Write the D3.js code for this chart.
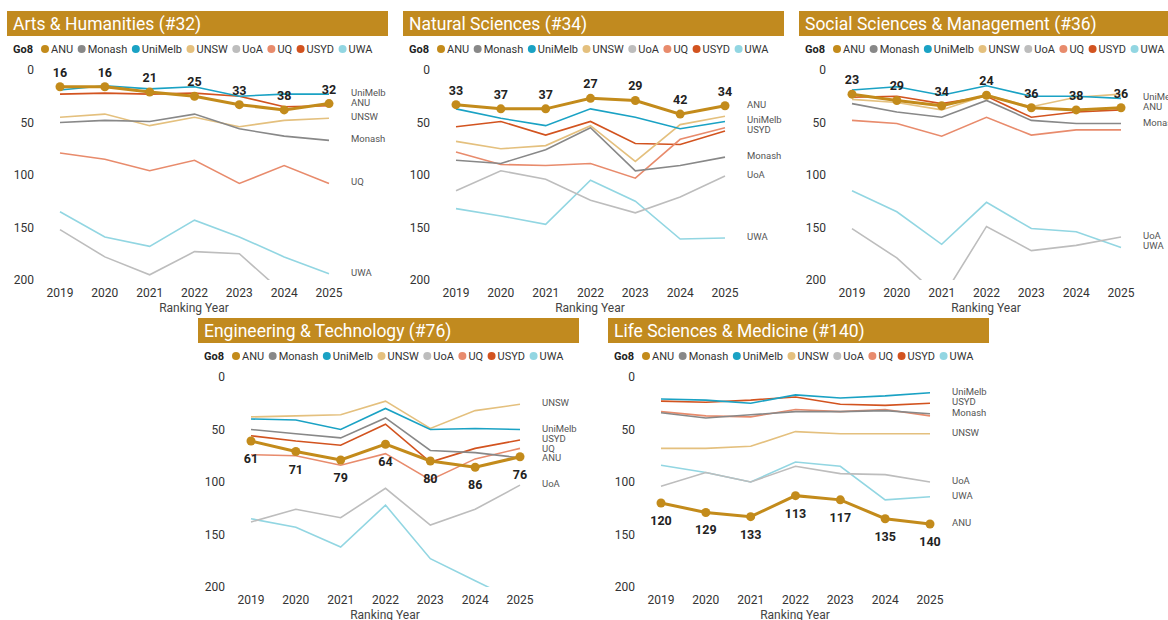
<!DOCTYPE html>
<html>
<head>
<meta charset="utf-8">
<script src="https://d3js.org/d3.v7.min.js"></script>
<style>
body { margin: 0; background: #fff; }
svg { font-family: Roboto, "Open Sans", sans-serif; }
</style>
</head>
<body>
<div id="chart"></div>
<script>
// ranking years and Go8 universities
var years = [2019, 2020, 2021, 2022, 2023, 2024, 2025];
var schools = ["ANU", "Monash", "UniMelb", "UNSW", "UoA", "UQ", "USYD", "UWA"];
var yTicks = [0, 50, 100, 150, 200];

// subject rank per school, one object per panel
var artsHum = {
  ANU:     [16, 16, 21, 25, 33, 38, 32],
  Monash:  [50, 48, 49, 42, 56, 63, 67],
  UniMelb: [19, 15, 18, 16, 25, 23, 23],
  UNSW:    [45, 42, 53, 45, 54, 48, 46],
  UoA:     [152, 178, 195, 173, 175, 213, 230],
  UQ:      [79, 85, 96, 86, 108, 91, 108],
  USYD:    [23, 22, 23, 22, 25, 35, 34],
  UWA:     [135, 159, 168, 143, 159, 178, 194]
};
var natSci = {
  ANU:     [33, 37, 37, 27, 29, 42, 34],
  Monash:  [86, 89, 76, 55, 96, 91, 83],
  UniMelb: [37, 46, 53, 37, 45, 56, 49],
  UNSW:    [68, 75, 72, 53, 87, 52, 44],
  UoA:     [115, 96, 104, 124, 136, 121, 101],
  UQ:      [78, 90, 91, 89, 103, 66, 55],
  USYD:    [54, 49, 62, 49, 70, 71, 58],
  UWA:     [132, 139, 147, 105, 125, 161, 160]
};
var socSci = {
  ANU:     [23, 29, 34, 24, 36, 38, 36],
  Monash:  [32, 40, 45, 29, 48, 51, 51],
  UniMelb: [19, 16, 24, 15, 25, 25, 27],
  UNSW:    [28, 31, 38, 24, 35, 26, 23],
  UoA:     [151, 179, 218, 149, 172, 167, 159],
  UQ:      [48, 51, 63, 45, 62, 57, 57],
  USYD:    [26, 25, 32, 25, 45, 40, 38],
  UWA:     [115, 135, 166, 126, 151, 154, 169]
};
var engTech = {
  ANU:     [61, 71, 79, 64, 80, 86, 76],
  Monash:  [50, 54, 58, 39, 70, 72, 77],
  UniMelb: [40, 41, 50, 30, 50, 49, 50],
  UNSW:    [38, 37, 36, 23, 49, 32, 26],
  UoA:     [138, 126, 134, 106, 141, 126, 103],
  UQ:      [74, 75, 84, 73, 98, 78, 68],
  USYD:    [56, 61, 65, 45, 81, 68, 60],
  UWA:     [135, 143, 162, 122, 173, 194, 215]
};
var lifeSci = {
  ANU:     [120, 129, 133, 113, 117, 135, 140],
  Monash:  [34, 39, 36, 33, 33, 32, 35],
  UniMelb: [21, 22, 25, 17, 20, 18, 15],
  UNSW:    [68, 68, 66, 52, 54, 54, 54],
  UoA:     [104, 91, 100, 85, 92, 93, 100],
  UQ:      [33, 37, 38, 31, 33, 31, 37],
  USYD:    [23, 24, 22, 19, 26, 27, 25],
  UWA:     [84, 91, 100, 81, 85, 117, 114]
};

// series named at the right edge of each panel
var artsEnd = ["UniMelb", "ANU", "UNSW", "Monash", "UQ", "UWA"];
var natEnd = ["ANU", "UniMelb", "USYD", "Monash", "UoA", "UWA"];
var socEnd = ["UniMelb", "ANU", "Monash", "UoA", "UWA"];
var engEnd = ["UNSW", "UniMelb", "USYD", "UQ", "ANU", "UoA"];
var lifeEnd = ["UniMelb", "USYD", "Monash", "UNSW", "UoA", "UWA", "ANU"];

var colors = {
  ANU: "#c38b1b", Monash: "#888888", UniMelb: "#1aa2c4", UNSW: "#e4c07e",
  UoA: "#bdbdbd", UQ: "#e88b6c", USYD: "#d2531f", UWA: "#92d6e2"
};

var panels = [
  {title: "Arts & Humanities (#32)", data: artsHum, ends: artsEnd, x: 7, y: 11, below: false},
  {title: "Natural Sciences (#34)", data: natSci, ends: natEnd, x: 403, y: 11, below: false},
  {title: "Social Sciences & Management (#36)", data: socSci, ends: socEnd, x: 799, y: 11, below: false},
  {title: "Engineering & Technology (#76)", data: engTech, ends: engEnd, x: 198, y: 318, below: true},
  {title: "Life Sciences & Medicine (#140)", data: lifeSci, ends: lifeEnd, x: 608, y: 318, below: true}
];

var svg = d3.select("#chart").append("svg")
  .attr("width", 1168)
  .attr("height", 620);

panels.forEach(function(p, pi) {
  var g = svg.append("g").attr("transform", "translate(" + p.x + "," + p.y + ")");

  // header bar
  g.append("rect")
    .attr("width", 381).attr("height", 25)
    .attr("fill", "#c18a1f");
  g.append("text")
    .attr("x", 6).attr("y", 18.5)
    .attr("fill", "#fff")
    .attr("font-size", 17.5)
    .text(p.title);

  // legend
  var leg = g.append("g").attr("transform", "translate(6,38)");
  leg.append("text").attr("y", 4).attr("font-size", 11).attr("font-weight", "bold")
    .attr("fill", "#222").text("Go8");
  var lx = 28;
  schools.forEach(function(s) {
    leg.append("circle").attr("cx", lx + 4).attr("cy", 0).attr("r", 4).attr("fill", colors[s]);
    var t = leg.append("text").attr("x", lx + 10).attr("y", 4)
      .attr("font-size", 11).attr("fill", "#333").text(s);
    lx += 10 + t.node().getComputedTextLength() + 4.5;
  });

  var x = d3.scalePoint().domain(years).range([53, 322]);
  var y = d3.scaleLinear().domain([0, 200]).range([59, 269]);

  // y axis labels
  g.selectAll(".ytick").data(yTicks).enter().append("text")
    .attr("x", 27).attr("y", function(d) { return y(d) + 4; })
    .attr("text-anchor", "end")
    .attr("font-size", 12).attr("fill", "#333")
    .text(function(d) { return d; });

  // x axis labels
  g.selectAll(".xtick").data(years).enter().append("text")
    .attr("x", function(d) { return x(d); })
    .attr("y", 286)
    .attr("text-anchor", "middle")
    .attr("font-size", 12).attr("fill", "#333")
    .text(function(d) { return d; });
  g.append("text")
    .attr("x", 187).attr("y", 301)
    .attr("text-anchor", "middle")
    .attr("font-size", 12).attr("fill", "#444")
    .text("Ranking Year");

  var clipId = "clip" + pi;
  g.append("clipPath").attr("id", clipId).append("rect")
    .attr("x", 0).attr("y", 30).attr("width", 381).attr("height", y(200) - 30);

  var line = d3.line()
    .x(function(d, i) { return x(years[i]); })
    .y(function(d) { return y(d); });

  var lines = g.append("g").attr("clip-path", "url(#" + clipId + ")");
  schools.slice().reverse().forEach(function(s) {
    if (s === "ANU") return;
    lines.append("path")
      .attr("d", line(p.data[s]))
      .attr("fill", "none")
      .attr("stroke", colors[s])
      .attr("stroke-width", 1.6);
  });
  lines.append("path")
    .attr("d", line(p.data.ANU))
    .attr("fill", "none")
    .attr("stroke", colors.ANU)
    .attr("stroke-width", 3);
  lines.selectAll(".dot").data(p.data.ANU).enter().append("circle")
    .attr("cx", function(d, i) { return x(years[i]); })
    .attr("cy", function(d) { return y(d); })
    .attr("r", 4.5)
    .attr("fill", colors.ANU);

  // ANU rank labels
  g.selectAll(".val").data(p.data.ANU).enter().append("text")
    .attr("x", function(d, i) { return x(years[i]); })
    .attr("y", function(d) { return p.below ? y(d) + 22 : y(d) - 10; })
    .attr("text-anchor", "middle")
    .attr("font-size", 12.5).attr("font-weight", "bold")
    .attr("fill", "#222")
    .text(function(d) { return d; });

  // end labels, pushed apart so they do not overlap
  var ends = p.ends.map(function(s) {
    return {name: s, pos: y(p.data[s][years.length - 1]) - 1.5};
  }).sort(function(a, b) { return a.pos - b.pos; });
  for (var i = 1; i < ends.length; i++) {
    if (ends[i].pos - ends[i - 1].pos < 9.5) ends[i].pos = ends[i - 1].pos + 9.5;
  }
  g.selectAll(".end").data(ends).enter().append("text")
    .attr("x", 344)
    .attr("y", function(d) { return d.pos + 3.5; })
    .attr("font-size", 9.5).attr("fill", "#555")
    .text(function(d) { return d.name; });
});
</script>
</body>
</html>
